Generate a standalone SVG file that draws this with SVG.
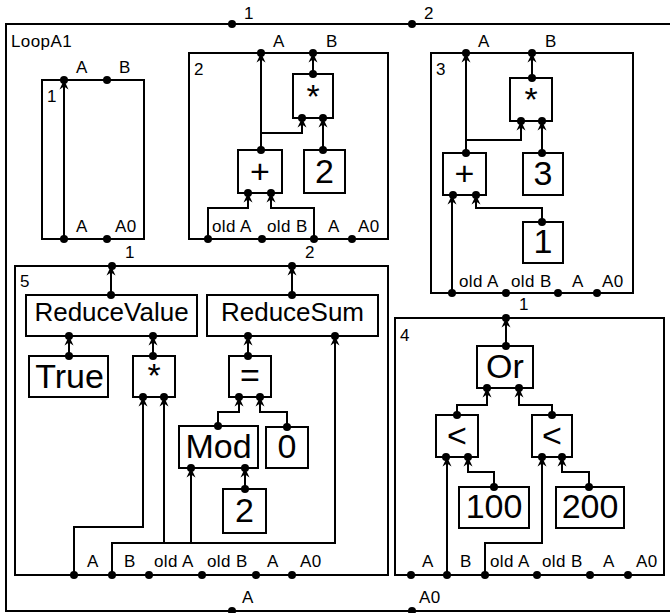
<svg xmlns="http://www.w3.org/2000/svg" width="670" height="613" viewBox="0 0 670 613">
<style>
.box{fill:#fff;stroke:#000;stroke-width:2}
.w{fill:none;stroke:#000;stroke-width:2;marker-end:url(#a)}
.d{fill:#000}
text{font-family:"Liberation Sans",Arial,sans-serif;fill:#000}
.l{font-size:17px;letter-spacing:0.4px}
.b{font-size:34px;text-anchor:middle}
.m{font-size:26px;text-anchor:middle}
</style>
<defs>
<marker id="a" markerUnits="userSpaceOnUse" markerWidth="12" markerHeight="12" viewBox="-10 -6 12 12" refX="0" refY="0" orient="auto"><path d="M0,0 L-9.500,-4.500 L-6.500,0 L-9.500,4.500 Z" fill="#000"/></marker>
</defs>
<rect x="0" y="0" width="670" height="613" fill="#fff"/>
<g id="outer">
<rect class="box" x="6" y="24" width="680" height="587"/>
<text class="l" x="11" y="47">LoopA1</text>
<circle class="d" cx="232" cy="24" r="4"/><text class="l" x="244" y="19">1</text>
<circle class="d" cx="412" cy="24" r="4"/><text class="l" x="424" y="19">2</text>
<circle class="d" cx="232" cy="611" r="4"/><text class="l" x="242" y="603">A</text>
<circle class="d" cx="412" cy="611" r="4"/><text class="l" x="419" y="603">A0</text>
</g>
<g id="box1">
<rect class="box" x="42" y="80" width="102" height="159"/>
<text class="l" x="47" y="102">1</text>
<circle class="d" cx="64" cy="80" r="4"/><text class="l" x="76" y="73">A</text>
<circle class="d" cx="107" cy="80" r="4"/><text class="l" x="119" y="73">B</text>
<circle class="d" cx="64" cy="239" r="4"/><text class="l" x="76" y="232">A</text>
<circle class="d" cx="107" cy="239" r="4"/><text class="l" x="115" y="232">A0</text>
</g>
<g id="box2">
<rect class="box" x="189" y="53" width="199" height="186"/>
<text class="l" x="194" y="75">2</text>
<circle class="d" cx="261" cy="53" r="4"/><text class="l" x="273" y="47">A</text>
<circle class="d" cx="313" cy="53" r="4"/><text class="l" x="326" y="47">B</text>
<circle class="d" cx="208" cy="239" r="4"/><text class="l" x="212" y="232">old A</text>
<circle class="d" cx="262" cy="239" r="4"/><text class="l" x="267" y="232">old B</text>
<circle class="d" cx="314" cy="239" r="4"/><text class="l" x="328" y="232">A</text>
<circle class="d" cx="352" cy="239" r="4"/><text class="l" x="358" y="232">A0</text>
</g>
<g id="b2mul">
<rect class="box" x="293" y="74" width="40" height="44"/><text class="b" x="313" y="108">*</text>
<circle class="d" cx="313" cy="74" r="4"/><circle class="d" cx="302" cy="118" r="4"/><circle class="d" cx="323" cy="118" r="4"/>
</g>
<g id="b2add">
<rect class="box" x="238" y="150" width="44" height="43"/><text class="b" x="260" y="183">+</text>
<circle class="d" cx="261" cy="150" r="4"/><circle class="d" cx="248" cy="193" r="4"/><circle class="d" cx="271" cy="193" r="4"/>
</g>
<g id="b2two">
<rect class="box" x="304" y="150" width="41" height="43"/><text class="b" x="324.500" y="183">2</text>
<circle class="d" cx="323" cy="150" r="4"/>
</g>
<g id="box3">
<rect class="box" x="431" y="53" width="202" height="240"/>
<text class="l" x="436" y="75">3</text>
<circle class="d" cx="466" cy="53" r="4"/><text class="l" x="478" y="47">A</text>
<circle class="d" cx="532" cy="53" r="4"/><text class="l" x="545" y="47">B</text>
<circle class="d" cx="452" cy="293" r="4"/><text class="l" x="459" y="287">old A</text>
<circle class="d" cx="506" cy="293" r="4"/><text class="l" x="511" y="287">old B</text>
<circle class="d" cx="558" cy="293" r="4"/><text class="l" x="572" y="287">A</text>
<circle class="d" cx="597" cy="293" r="4"/><text class="l" x="602" y="287">A0</text>
</g>
<g id="b3mul">
<rect class="box" x="510" y="78" width="42" height="43"/><text class="b" x="531" y="111">*</text>
<circle class="d" cx="532" cy="78" r="4"/><circle class="d" cx="521" cy="121" r="4"/><circle class="d" cx="542" cy="121" r="4"/>
</g>
<g id="b3add">
<rect class="box" x="443" y="153" width="43" height="42"/><text class="b" x="464.500" y="185">+</text>
<circle class="d" cx="466" cy="153" r="4"/><circle class="d" cx="453" cy="195" r="4"/><circle class="d" cx="476" cy="195" r="4"/>
</g>
<g id="b3three">
<rect class="box" x="523" y="153" width="40" height="42"/><text class="b" x="543" y="185">3</text>
<circle class="d" cx="542" cy="153" r="4"/>
</g>
<g id="b3one">
<rect class="box" x="523" y="222" width="40" height="41"/><text class="b" x="543" y="253">1</text>
<circle class="d" cx="542" cy="222" r="4"/>
</g>
<g id="box4">
<rect class="box" x="395" y="318" width="269" height="257"/>
<text class="l" x="400" y="341">4</text>
<circle class="d" cx="506" cy="318" r="4"/><text class="l" x="519" y="310">1</text>
<circle class="d" cx="411" cy="575" r="4"/><text class="l" x="422" y="567">A</text>
<circle class="d" cx="447" cy="575" r="4"/><text class="l" x="460" y="567">B</text>
<circle class="d" cx="485" cy="575" r="4"/><text class="l" x="490" y="567">old A</text>
<circle class="d" cx="537" cy="575" r="4"/><text class="l" x="542" y="567">old B</text>
<circle class="d" cx="590" cy="575" r="4"/><text class="l" x="603" y="567">A</text>
<circle class="d" cx="628" cy="575" r="4"/><text class="l" x="636" y="567">A0</text>
</g>
<g id="b4or">
<rect class="box" x="477" y="346" width="56" height="42"/><text class="b" x="505" y="378">Or</text>
<circle class="d" cx="506" cy="346" r="4"/><circle class="d" cx="487" cy="388" r="4"/><circle class="d" cx="519" cy="388" r="4"/>
</g>
<g id="b4lt1">
<rect class="box" x="436" y="415" width="42" height="42"/><text class="b" x="457" y="447">&lt;</text>
<circle class="d" cx="457" cy="415" r="4"/><circle class="d" cx="446" cy="457" r="4"/><circle class="d" cx="468" cy="457" r="4"/>
</g>
<g id="b4lt2">
<rect class="box" x="532" y="415" width="40" height="42"/><text class="b" x="552" y="447">&lt;</text>
<circle class="d" cx="552" cy="415" r="4"/><circle class="d" cx="542" cy="457" r="4"/><circle class="d" cx="562" cy="457" r="4"/>
</g>
<g id="b4c100">
<rect class="box" x="459" y="487" width="70" height="41"/><text class="b" x="494" y="518">100</text>
<circle class="d" cx="494" cy="487" r="4"/>
</g>
<g id="b4c200">
<rect class="box" x="556" y="487" width="68" height="41"/><text class="b" x="590" y="518">200</text>
<circle class="d" cx="589" cy="487" r="4"/>
</g>
<g id="box5">
<rect class="box" x="15" y="266" width="373" height="309"/>
<text class="l" x="20" y="287">5</text>
<circle class="d" cx="112" cy="266" r="4"/><text class="l" x="125" y="258">1</text>
<circle class="d" cx="292" cy="266" r="4"/><text class="l" x="305" y="258">2</text>
<circle class="d" cx="74" cy="575" r="4"/><text class="l" x="87" y="567">A</text>
<circle class="d" cx="112" cy="575" r="4"/><text class="l" x="124" y="567">B</text>
<circle class="d" cx="149" cy="575" r="4"/><text class="l" x="154" y="567">old A</text>
<circle class="d" cx="202" cy="575" r="4"/><text class="l" x="207" y="567">old B</text>
<circle class="d" cx="256" cy="575" r="4"/><text class="l" x="267" y="567">A</text>
<circle class="d" cx="292" cy="575" r="4"/><text class="l" x="300" y="567">A0</text>
</g>
<g id="b5rv">
<rect class="box" x="26" y="295" width="171" height="41"/><text class="m" x="111.500" y="321">ReduceValue</text>
<circle class="d" cx="111" cy="295" r="4"/><circle class="d" cx="69" cy="336" r="4"/><circle class="d" cx="153" cy="336" r="4"/>
</g>
<g id="b5rs">
<rect class="box" x="207" y="295" width="171" height="41"/><text class="m" x="292.500" y="321">ReduceSum</text>
<circle class="d" cx="292" cy="295" r="4"/><circle class="d" cx="248" cy="336" r="4"/><circle class="d" cx="335" cy="336" r="4"/>
</g>
<g id="b5true">
<rect class="box" x="29" y="356" width="79" height="41"/><text class="b" x="69.500" y="388">True</text>
<circle class="d" cx="69" cy="356" r="4"/>
</g>
<g id="b5mul">
<rect class="box" x="133" y="356" width="42" height="41"/><text class="b" x="154" y="387">*</text>
<circle class="d" cx="153" cy="356" r="4"/><circle class="d" cx="143" cy="397" r="4"/><circle class="d" cx="164" cy="397" r="4"/>
</g>
<g id="b5eq">
<rect class="box" x="229" y="356" width="42" height="41"/><text class="b" x="250" y="387">=</text>
<circle class="d" cx="248" cy="356" r="4"/><circle class="d" cx="239" cy="397" r="4"/><circle class="d" cx="260" cy="397" r="4"/>
</g>
<g id="b5mod">
<rect class="box" x="179" y="426" width="79" height="42"/><text class="b" x="218.500" y="458">Mod</text>
<circle class="d" cx="218" cy="426" r="4"/><circle class="d" cx="191" cy="468" r="4"/><circle class="d" cx="245" cy="468" r="4"/>
</g>
<g id="b5zero">
<rect class="box" x="266" y="427" width="42" height="41"/><text class="b" x="287" y="458">0</text>
<circle class="d" cx="287" cy="427" r="4"/>
</g>
<g id="b5two">
<rect class="box" x="223" y="489" width="43" height="44"/><text class="b" x="244.500" y="522">2</text>
<circle class="d" cx="245" cy="489" r="4"/>
</g>
<g id="connectors">
<path class="w" d="M64,239 V80"/>
<path class="w" d="M208,239 V208 H248 V193"/>
<path class="w" d="M314,239 V208 H271 V193"/>
<path class="w" d="M261,150 V53"/>
<path class="w" d="M261,133 H302 V118"/>
<path class="w" d="M323,150 V118"/>
<path class="w" d="M313,74 V53"/>
<path class="w" d="M452,293 V195"/>
<path class="w" d="M542,222 V208 H476 V195"/>
<path class="w" d="M466,153 V53"/>
<path class="w" d="M466,140 H521 V121"/>
<path class="w" d="M542,153 V121"/>
<path class="w" d="M532,78 V53"/>
<path class="w" d="M506,346 V318"/>
<path class="w" d="M457,415 V405 H487 V388"/>
<path class="w" d="M552,415 V405 H519 V388"/>
<path class="w" d="M447,575 V457"/>
<path class="w" d="M494,487 V472 H468 V457"/>
<path class="w" d="M485,575 V543 H542 V457"/>
<path class="w" d="M589,487 V472 H562 V457"/>
<path class="w" d="M74,575 V527 H143 V397"/>
<path class="w" d="M112,575 V543 H335 V336"/>
<path class="w" d="M164,543 V397"/>
<path class="w" d="M191,543 V468"/>
<path class="w" d="M245,489 V468"/>
<path class="w" d="M218,426 V412 H239 V397"/>
<path class="w" d="M287,427 V412 H260 V397"/>
<path class="w" d="M248,356 V336"/>
<path class="w" d="M69,356 V336"/>
<path class="w" d="M153,356 V336"/>
<path class="w" d="M111,295 V266"/>
<path class="w" d="M292,295 V266"/>
</g>
</svg>
